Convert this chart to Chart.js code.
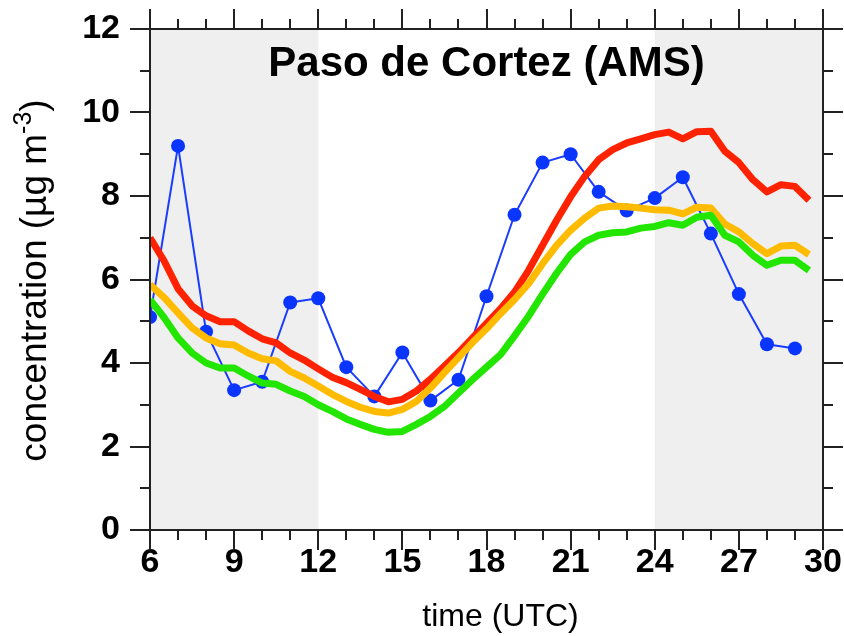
<!DOCTYPE html>
<html>
<head>
<meta charset="utf-8">
<script src="https://cdn.jsdelivr.net/npm/chart.js@4.4.1/dist/chart.umd.min.js"></script>
<style>
  html, body { margin: 0; padding: 0; background: #fff; }
</style>
</head>
<body>
<canvas id="concChart" width="844" height="636"></canvas>
<script>
// observed hourly concentration
var obsHours = [6, 7, 8, 9, 10, 11, 12, 13, 14, 15, 16, 17, 18, 19, 20, 21, 22, 23, 24, 25, 26, 27, 28, 29];
var obsValues = [5.1, 9.2, 4.75, 3.35, 3.55, 5.45, 5.55, 3.9, 3.2, 4.25, 3.1, 3.6, 5.6, 7.55, 8.8, 9.0, 8.1, 7.65, 7.95, 8.45, 7.1, 5.65, 4.45, 4.35];

// model runs, half-hourly output
var modelHours = [6, 6.5, 7, 7.5, 8, 8.5, 9, 9.5, 10, 10.5, 11, 11.5, 12, 12.5, 13, 13.5, 14, 14.5, 15, 15.5, 16, 16.5, 17, 17.5,
                  18, 18.5, 19, 19.5, 20, 20.5, 21, 21.5, 22, 22.5, 23, 23.5, 24, 24.5, 25, 25.5, 26, 26.5, 27, 27.5, 28, 28.5, 29, 29.5];
var redValues = [7.0, 6.45, 5.78, 5.37, 5.13, 4.99, 4.99, 4.77, 4.58, 4.48, 4.24, 4.07, 3.86, 3.66, 3.53, 3.37, 3.2, 3.07, 3.13, 3.33, 3.61, 3.93, 4.25, 4.6,
                 4.95, 5.3, 5.7, 6.22, 6.82, 7.42, 7.98, 8.47, 8.87, 9.11, 9.27, 9.37, 9.47, 9.53, 9.37, 9.54, 9.55, 9.07, 8.8, 8.39, 8.1, 8.27, 8.23, 7.9];
var orangeValues = [5.88, 5.57, 5.2, 4.84, 4.6, 4.46, 4.43, 4.24, 4.1, 4.05, 3.8, 3.64, 3.45, 3.25, 3.08, 2.94, 2.84, 2.8, 2.89, 3.08, 3.4, 3.77, 4.13, 4.49,
                    4.82, 5.18, 5.52, 5.9, 6.38, 6.82, 7.18, 7.47, 7.71, 7.76, 7.74, 7.71, 7.67, 7.66, 7.57, 7.73, 7.71, 7.33, 7.14, 6.86, 6.62, 6.8, 6.82, 6.6];
var greenValues = [5.52, 5.09, 4.6, 4.24, 4.0, 3.88, 3.88, 3.69, 3.52, 3.49, 3.33, 3.2, 3.0, 2.84, 2.66, 2.53, 2.41, 2.34, 2.36, 2.53, 2.72, 2.96, 3.28, 3.6,
                   3.9, 4.2, 4.65, 5.12, 5.65, 6.15, 6.6, 6.9, 7.06, 7.12, 7.14, 7.23, 7.27, 7.36, 7.3, 7.49, 7.54, 7.06, 6.9, 6.58, 6.34, 6.46, 6.46, 6.22];

// night-time periods shaded grey
var nightRanges = [[6, 12], [24, 30]];

var chartTitle = 'Paso de Cortez (AMS)';
var xTitle = 'time (UTC)';

function pts(xs, ys) {
  return xs.map(function (x, i) { return { x: x, y: ys[i] }; });
}

var FONT = '"Liberation Sans", Arial, Helvetica, sans-serif';

// shading, frame with ticks on all four sides, titles
var framePlugin = {
  id: 'frame',
  beforeDatasetsDraw: function (chart) {
    var ctx = chart.ctx, a = chart.chartArea, xs = chart.scales.x;
    ctx.save();
    ctx.fillStyle = '#efefef';
    nightRanges.forEach(function (r) {
      var x0 = xs.getPixelForValue(r[0]), x1 = xs.getPixelForValue(r[1]);
      ctx.fillRect(x0, a.top, x1 - x0, a.bottom - a.top);
    });
    ctx.restore();
  },
  afterDatasetsDraw: function (chart) {
    var ctx = chart.ctx, a = chart.chartArea, xs = chart.scales.x, ys = chart.scales.y;
    ctx.save();
    ctx.strokeStyle = '#222';
    ctx.lineWidth = 2;
    ctx.lineCap = 'butt';
    ctx.strokeRect(a.left, a.top, a.right - a.left, a.bottom - a.top);
    ctx.beginPath();
    for (var h = 6; h <= 30; h++) {
      var px = Math.round(xs.getPixelForValue(h));
      var len = (h % 3 === 0) ? 20 : 10;
      ctx.moveTo(px, a.bottom); ctx.lineTo(px, a.bottom + len);
      ctx.moveTo(px, a.top); ctx.lineTo(px, a.top - len);
    }
    for (var v = 0; v <= 12; v++) {
      var py = Math.round(ys.getPixelForValue(v));
      var l2 = (v % 2 === 0) ? 20 : 10;
      ctx.moveTo(a.left, py); ctx.lineTo(a.left - l2, py);
      ctx.moveTo(a.right, py); ctx.lineTo(a.right + l2, py);
    }
    ctx.stroke();

    // title inside the plot
    ctx.fillStyle = '#000';
    ctx.font = 'bold 42px ' + FONT;
    ctx.textAlign = 'center';
    ctx.textBaseline = 'middle';
    ctx.fillText(chartTitle, (a.left + a.right) / 2, a.top + 35);

    // x-axis label
    ctx.font = '32px ' + FONT;
    ctx.textBaseline = 'alphabetic';
    ctx.fillText(xTitle, xs.getPixelForValue(18.5), 626);

    // y-axis label with superscript
    var base = '37px ' + FONT, sup = '25px ' + FONT;
    var s1 = 'concentration (\u00b5g m', s2 = '-3', s3 = ')';
    ctx.font = base; var w1 = ctx.measureText(s1).width, w3 = ctx.measureText(s3).width;
    ctx.font = sup; var w2 = ctx.measureText(s2).width;
    var total = w1 + w2 + w3;
    ctx.translate(36, (a.top + a.bottom) / 2 + 1);
    ctx.rotate(-Math.PI / 2);
    ctx.textAlign = 'left';
    ctx.textBaseline = 'middle';
    var x0 = -total / 2;
    ctx.font = base; ctx.fillText(s1, x0, 0);
    ctx.font = sup; ctx.fillText(s2, x0 + w1, -12);
    ctx.font = base; ctx.fillText(s3, x0 + w1 + w2, 0);
    ctx.restore();
  }
};

var ctx = document.getElementById('concChart');
new Chart(ctx, {
  type: 'line',
  data: {
    datasets: [
      { data: pts(modelHours, greenValues), borderColor: '#22e600', borderWidth: 7, pointRadius: 0, order: 1 },
      { data: pts(modelHours, orangeValues), borderColor: '#ffbb00', borderWidth: 7, pointRadius: 0, order: 2 },
      { data: pts(modelHours, redValues), borderColor: '#ff2200', borderWidth: 7, pointRadius: 0, order: 3 },
      { data: pts(obsHours, obsValues), borderColor: '#1a3cff', backgroundColor: '#0a35ff', borderWidth: 2,
        pointRadius: 7, pointBorderWidth: 0, order: 4 }
    ]
  },
  options: {
    responsive: false,
    animation: false,
    devicePixelRatio: 1,
    layout: { padding: { top: 29, right: 21, left: 0, bottom: 0 } },
    plugins: { legend: { display: false }, tooltip: { enabled: false } },
    elements: { line: { tension: 0, borderJoinStyle: 'round', borderCapStyle: 'butt' } },
    scales: {
      x: {
        type: 'linear', min: 6, max: 30,
        grid: { display: false }, border: { display: false },
        ticks: { stepSize: 3, color: '#000', font: { family: FONT, size: 34, weight: 'bold' }, padding: 4, maxRotation: 0, autoSkip: false },
        afterFit: function (s) { s.height = 106; s.paddingLeft = 0; s.paddingRight = 0; }
      },
      y: {
        min: 0, max: 12,
        grid: { display: false }, border: { display: false },
        ticks: { stepSize: 2, color: '#000', font: { family: FONT, size: 34, weight: 'bold' }, padding: 22 },
        afterFit: function (s) { s.width = 150; s.paddingTop = 0; s.paddingBottom = 0; }
      }
    }
  },
  plugins: [framePlugin]
});
</script>
</body>
</html>
